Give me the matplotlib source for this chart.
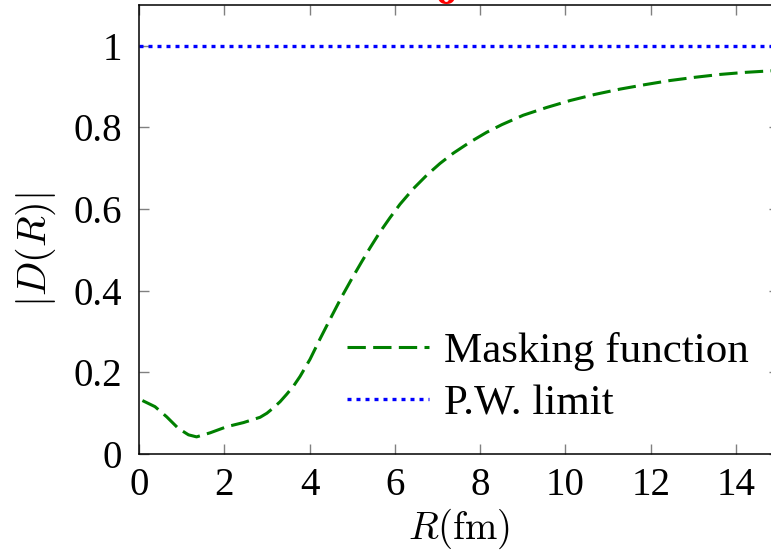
import numpy as np
import matplotlib
matplotlib.use('Agg')
import matplotlib.pyplot as plt

# 掩蔽函数 |D(R)| 随 R 的变化（读数点）
R = [0.08, 0.375, 0.65, 0.92, 1.16, 1.35, 1.67, 2.06, 2.45, 2.84, 3.0,
     3.15, 3.307, 3.46, 3.62, 3.776, 4.01, 4.245, 4.519, 4.753, 4.988,
     5.222, 5.417, 5.652, 5.886, 6.121, 6.433, 6.747, 7.06, 7.37, 7.76,
     8.15, 8.51, 9.01, 9.56, 10.11, 10.69, 11.28, 11.87, 12.45, 13.04,
     13.63, 14.21, 14.85]
D = [0.131, 0.116, 0.091, 0.063, 0.047, 0.042, 0.052, 0.067, 0.077, 0.090,
     0.100, 0.113, 0.128, 0.146, 0.166, 0.190, 0.232, 0.282, 0.338, 0.385,
     0.429, 0.471, 0.505, 0.544, 0.579, 0.612, 0.650, 0.683, 0.712, 0.737,
     0.764, 0.788, 0.807, 0.830, 0.849, 0.866, 0.881, 0.894, 0.905, 0.915,
     0.923, 0.930, 0.935, 0.939]
pw_limit = 1.0

x_ticks = [0, 2, 4, 6, 8, 10, 12, 14]
y_ticks = [0, 0.2, 0.4, 0.6, 0.8, 1.0]
y_tick_labels = ['0', '0.2', '0.4', '0.6', '0.8', '1']

plt.rcParams['font.family'] = ['Liberation Serif', 'DejaVu Serif']
plt.rcParams['mathtext.fontset'] = 'cm'

fs = 28

fig = plt.figure(figsize=(7.71, 5.53), dpi=100)
ax = fig.add_axes([0.1803, 0.179, 0.8296, 0.8119])

ax.plot(R, D, color='green', linestyle=(0, (6, 2.4)), linewidth=2.2,
        label='Masking function')
ax.axhline(pw_limit, color='blue', linestyle=(0, (1.2, 1.5)), linewidth=2.4,
           label='P.W. limit')

ax.set_xlim(0, 15)
ax.set_ylim(0, 1.1)
ax.set_xticks(x_ticks)
ax.set_yticks(y_ticks)
ax.set_yticklabels(y_tick_labels)
ax.tick_params(direction='in', length=7.2, width=1, color='gray',
               labelsize=fs, top=True, right=True)
ax.tick_params(axis='x', pad=9)
ax.tick_params(axis='y', pad=12)
for s in ax.spines.values():
    s.set_linewidth(1.1)

ax.set_xlabel(r'$R(\mathrm{fm})$', fontsize=fs, labelpad=2)
ax.set_ylabel(r'$|D(R)|$', fontsize=fs + 1)
ax.yaxis.set_label_coords(-0.127, 0.455)

ax.legend(loc='center left', bbox_to_anchor=(0.325, 0.17), frameon=False,
          fontsize=31, handlelength=1.9, handletextpad=0.35,
          labelspacing=0.3, borderpad=0, borderaxespad=0)

# 上方被裁掉的红色标记
fig.text(446 / 771, 1 - 3.5 / 553, 'o', color='red', fontsize=30,
         ha='center', va='baseline', fontweight='bold')

fig.savefig('out.png', dpi=100)
